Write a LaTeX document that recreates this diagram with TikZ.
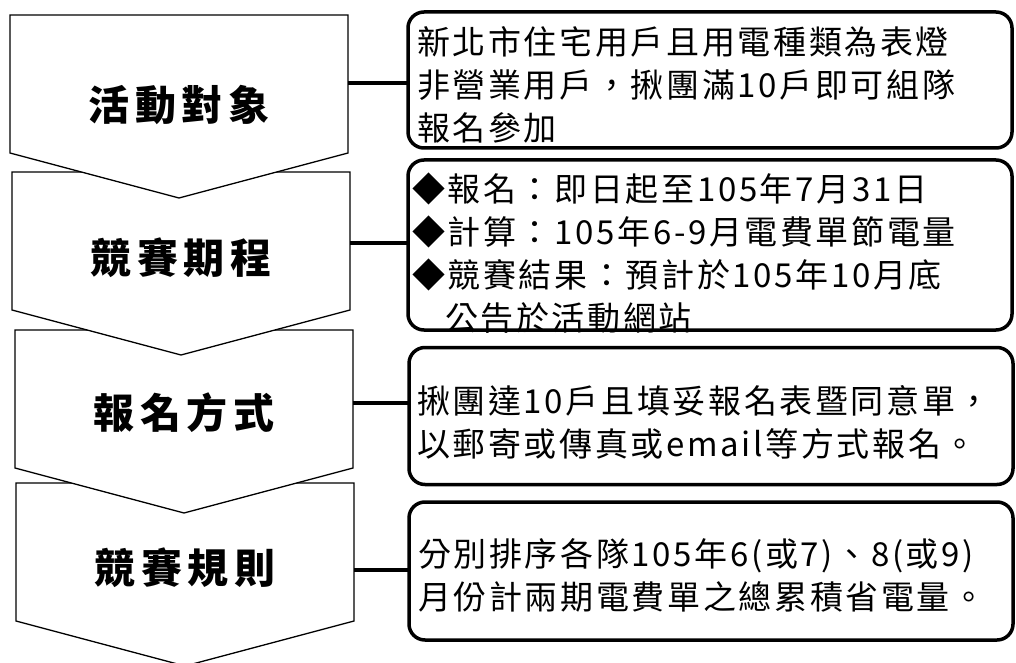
\documentclass[tikz,border=0pt]{standalone}
\usepackage{fontspec}
\setmainfont{Noto Sans CJK TC}
\newfontfamily\stepfont[LetterSpace=14]{Noto Sans CJK TC}
\newfontfamily\infofont[LetterSpace=8]{Noto Sans CJK TC}
\usetikzlibrary{calc}

\begin{document}
\begin{tikzpicture}[x=1pt, y=-1pt, inner sep=0, outer sep=0,
    stepbox/.style={rectangle, minimum width=338pt, minimum height=138pt},
    steplabel/.style={font=\stepfont\bfseries\fontsize{41}{46}\selectfont},
    chevron/.style={draw=black, line width=1.3pt, fill=white, line join=miter},
    infobox/.style={rectangle, draw=black, line width=3.5pt, rounded corners=16pt, minimum width=604pt},
    infotext/.style={anchor=west, align=left, font=\infofont\fontsize{33}{43}\selectfont},
    link/.style={draw=black, line width=3.5pt}]
  \useasboundingbox[fill=white] (0,0) rectangle (1016,663);

  \node[stepbox] (step1) at (179,84) {};
  \node[stepbox] (step2) at (181,241) {};
  \node[stepbox] (step3) at (184,399) {};
  \node[stepbox] (step4) at (185,552) {};

  % chevrons, lowest first so each tip lies over the next one
  \draw[chevron] (step4.north west) -- (step4.north east) -- (step4.south east) -- ([yshift=-45pt]step4.south) -- (step4.south west) -- cycle;
  \node[steplabel] (lbl4) at ([yshift=-16pt]step4.center) {競賽規則};
  \draw[chevron] (step3.north west) -- (step3.north east) -- (step3.south east) -- ([yshift=-45pt]step3.south) -- (step3.south west) -- cycle;
  \node[steplabel] (lbl3) at ([yshift=-14pt]step3.center) {報名方式};
  \draw[chevron] (step2.north west) -- (step2.north east) -- (step2.south east) -- ([yshift=-45pt]step2.south) -- (step2.south west) -- cycle;
  \node[steplabel] (lbl2) at ([yshift=-17pt]step2.center) {競賽期程};
  \draw[chevron] (step1.north west) -- (step1.north east) -- (step1.south east) -- ([yshift=-45pt]step1.south) -- (step1.south west) -- cycle;
  \node[steplabel] (lbl1) at ([yshift=-21pt]step1.center) {活動對象};

  \node[infobox, minimum height=136pt] (box1) at (710,80) {};
  \node[infobox, minimum height=170pt] (box2) at (710,245) {};
  \node[infobox, minimum height=137pt] (box3) at (711,416) {};
  \node[infobox, minimum height=138pt] (box4) at (711,571) {};

  \node[infotext] (txt1) at ([xshift=9pt, yshift=-5pt]box1.west) {新北市住宅用戶且用電種類為表燈\\非營業用戶，揪團滿10戶即可組隊\\報名參加};
  \node[infotext] (txt2) at ([xshift=4pt, yshift=-8pt]box2.west) {◆報名：即日起至105年7月31日\\◆計算：105年6-9月電費單節電量\\◆競賽結果：預計於105年10月底\\\phantom{◆}公告於活動網站};
  \node[infotext] (txt3) at ([xshift=8pt, yshift=-6pt]box3.west) {揪團達10戶且填妥報名表暨同意單，\\以郵寄或傳真或email等方式報名。};
  \node[infotext] (txt4) at ([xshift=9pt, yshift=-4pt]box4.west) {分別排序各隊105年6(或7)、8(或9)\\月份計兩期電費單之總累積省電量。};

  \coordinate (port1) at ([yshift=1pt]step1.east);
  \coordinate (port2) at ([yshift=-2pt]step2.east);
  \coordinate (port3) at ([yshift=-4pt]step3.east);
  \coordinate (port4) at ([yshift=-18pt]step4.east);
  \draw[link] (port1) -- (port1 -| box1.west);
  \draw[link] (port2) -- (port2 -| box2.west);
  \draw[link] (port3) -- (port3 -| box3.west);
  \draw[link] (port4) -- (port4 -| box4.west);
\end{tikzpicture}
\end{document}
